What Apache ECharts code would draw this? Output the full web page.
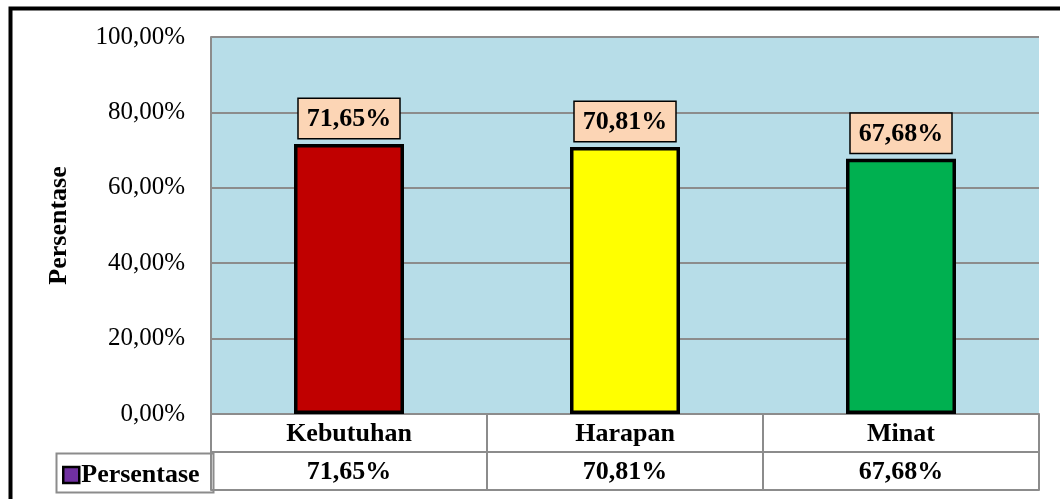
<!DOCTYPE html>
<html>
<head>
<meta charset="utf-8">
<script src="https://cdn.jsdelivr.net/npm/echarts@6/dist/echarts.min.js"></script>
<style>
  html, body { margin: 0; padding: 0; background: #fff; }
  #main { width: 1060px; height: 499px; }
</style>
</head>
<body>
<div id="main"></div>
<script>
var categories = ['Kebutuhan', 'Harapan', 'Minat'];
var values = [71.65, 70.81, 67.68];
var barColors = ['#C00000', '#FFFF00', '#00B050'];
var seriesName = 'Persentase';

function pct(v) {
    return v.toFixed(2).replace('.', ',') + '%';
}

var serif = 'Liberation Serif';
var lineGray = '#8c8c8c';

var chart = echarts.init(document.getElementById('main'));

var option = {
    animation: false,
    backgroundColor: '#fff',
    grid: {
        left: 211, right: 21, top: 37, bottom: 85,
        show: true, backgroundColor: '#B7DDE8', borderWidth: 0
    },
    legend: {
        left: 57, top: 457, padding: [5, 5, 5, 5],
        data: [seriesName],
        icon: 'rect',
        itemWidth: 16, itemHeight: 16, itemGap: 4,
        itemStyle: { borderColor: '#000', borderWidth: 2.5 },
        textStyle: { fontFamily: serif, fontWeight: 'bold', fontSize: 26, color: '#000', padding: [0, 0, 0, -3] }
    },
    xAxis: [
        {
            type: 'category', data: categories, position: 'bottom',
            axisLine: { lineStyle: { color: lineGray, width: 2 } },
            axisTick: { show: true, length: 76, interval: 0, lineStyle: { color: lineGray, width: 2 } },
            axisLabel: { margin: 7, fontFamily: serif, fontWeight: 'bold', fontSize: 26, color: '#000' }
        },
        {
            type: 'category', data: categories, position: 'bottom', offset: 38,
            axisLine: { lineStyle: { color: lineGray, width: 2 } },
            axisTick: { show: false },
            axisLabel: {
                margin: 7, fontFamily: serif, fontWeight: 'bold', fontSize: 26, color: '#000',
                formatter: function (v, i) { return pct(values[i]); }
            }
        },
        {
            type: 'category', data: categories, position: 'bottom', offset: 76,
            axisLine: { lineStyle: { color: lineGray, width: 2 } },
            axisTick: { show: false },
            axisLabel: { show: false }
        }
    ],
    yAxis: {
        type: 'value', min: 0, max: 100, interval: 20,
        name: 'Persentase', nameLocation: 'middle', nameGap: 139, nameRotate: 90,
        nameTextStyle: { fontFamily: serif, fontWeight: 'bold', fontSize: 26, color: '#000' },
        axisLine: { show: true, lineStyle: { color: lineGray, width: 2 } },
        axisTick: { show: false },
        splitLine: { lineStyle: { color: lineGray, width: 2 } },
        axisLabel: {
            margin: 26, fontFamily: serif, fontSize: 25, color: '#000',
            formatter: function (v) { return pct(v); }
        }
    },
    series: [{
        name: seriesName,
        type: 'bar',
        barWidth: 110,
        itemStyle: { color: '#7030A0', borderColor: '#000', borderWidth: 3.5 },
        data: values.map(function (v, i) {
            return { value: v, itemStyle: { color: barColors[i] } };
        }),
        label: {
            show: true, position: 'top', distance: 6,
            formatter: function (p) { return pct(p.value); },
            fontFamily: serif, fontWeight: 'bold', fontSize: 26, color: '#000',
            backgroundColor: '#FCD5B5', borderColor: '#000', borderWidth: 1.5,
            padding: [7, 8, 6, 8]
        }
    }],
    graphic: [
        {
            type: 'rect', left: 54, top: 451, z: 10, silent: true,
            shape: { width: 157, height: 39 },
            style: { fill: 'none', stroke: lineGray, lineWidth: 2 }
        },
        {
            type: 'rect', left: 8, top: 6, z: 10, silent: true,
            shape: { width: 1200, height: 600 },
            style: { fill: 'none', stroke: '#000', lineWidth: 4 }
        }
    ]
};

chart.setOption(option);
</script>
</body>
</html>
